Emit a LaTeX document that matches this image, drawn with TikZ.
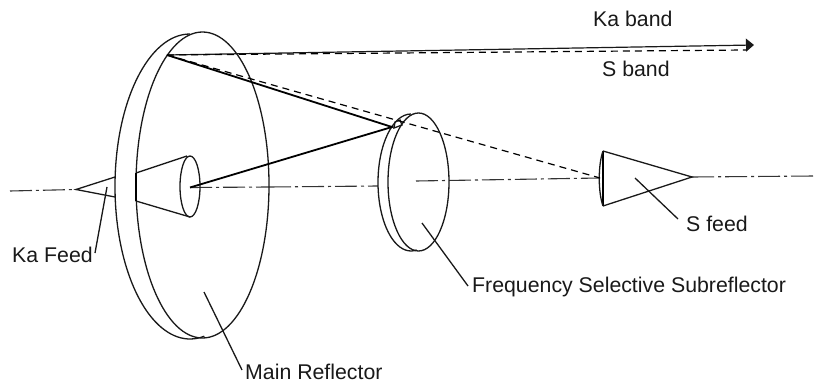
\documentclass[tikz,border=0pt]{standalone}
\usepackage{fontspec}
\setmainfont{Liberation Sans}
\usetikzlibrary{arrows.meta}
\tikzset{
  thinl/.style={line width=1.2pt,black!90},
  med/.style={line width=1.3pt,black!90},
  thick2/.style={line width=1.8pt,black},
  dash2/.style={line width=1.2pt,dash pattern=on 7pt off 5pt},
  axis2/.style={line width=1.1pt,black!80,dash pattern=on 22pt off 4pt on 3pt off 4pt},
  lab/.style={font=\fontsize{21.3}{24}\selectfont,inner sep=0pt,anchor=base west,text=black!90}
}
\begin{document}
\begin{tikzpicture}[x=1pt,y=-1pt]
\useasboundingbox (0,0) rectangle (820,385);
% axes
\coordinate (a0) at (10,191);
\coordinate (kaapex) at (76,189.5);
\coordinate (conec) at (190,187.5);
\coordinate (mrr) at (269,187);
\coordinate (sbl) at (378,186);
\coordinate (axs) at (416,181);
\coordinate (sfl) at (600,178);
\coordinate (sapex) at (692,177);
\coordinate (aend) at (815,176);
\draw[axis2] (a0) -- (kaapex);
\draw[axis2] (conec) -- (mrr);
\draw[axis2] (mrr) -- (sbl);
\draw[axis2] (axs) -- (sfl);
\draw[axis2] (sapex) -- (aend);
% main reflector
\draw[med] (202.5,185) ellipse [x radius=66.5,y radius=153];
\draw[med] (190,34) arc[start angle=-90,end angle=-281,x radius=75,y radius=152.5];
% Ka feed
\coordinate (kau) at (115,177);
\coordinate (kal) at (115,197);
\draw[med] (kau) -- (kaapex) -- (kal);
% cone
\coordinate (cl1) at (136,173);
\coordinate (cl2) at (136,201);
\coordinate (cr1) at (187,156);
\coordinate (cr2) at (190,217);
\draw[med] (cl1) -- (cr1);
\draw[med] (cl2) -- (cr2);
\draw[thick2] (cl1) -- (cl2);
\draw[med] (190,186.5) ellipse [x radius=10,y radius=30.5];
% subreflector
\draw[med] (418.5,182) ellipse [x radius=30.5,y radius=69];
\draw[med] (411,114) arc[start angle=-90,end angle=-280,x radius=33,y radius=68.5];
\draw[med] (395,122) -- (400,120) -- (402,125) -- (394,128) -- cycle;
% S feed
\coordinate (sf1) at (603,151);
\coordinate (sf2) at (603,206);
\draw[med] (sf1) -- (sapex) -- (sf2);
\draw[thick2] (sf1) -- (sf2);
\draw[med] (sf1) .. controls (598,165) and (598,192) .. (sf2);
% rays
\coordinate (hit) at (167,55);
\coordinate (sub) at (392,127);
\coordinate (tipk) at (754,45);
\coordinate (tips) at (746,50);
\draw[thinl,-{Triangle[length=8pt,width=13pt]}] (hit) -- (tipk);
\draw[dash2] (hit) -- (tips);
\draw[dash2] (hit) -- (sfl);
\draw[thick2] (hit) -- (sub) -- (conec);
% leaders
\coordinate (l1a) at (107,187);
\coordinate (l1b) at (95,253);
\coordinate (l2a) at (204,292);
\coordinate (l2b) at (242,370);
\coordinate (l3a) at (422,223);
\coordinate (l3b) at (468,286);
\coordinate (l4a) at (635,178);
\coordinate (l4b) at (678,219);
\draw[med] (l1a) -- (l1b);
\draw[med] (l2a) -- (l2b);
\draw[med] (l3a) -- (l3b);
\draw[med] (l4a) -- (l4b);
% labels
\node[lab] (t1) at (593,27) {Ka band};
\node[lab] (t2) at (602,77) {S band};
\node[lab] (t3) at (12,262) {Ka Feed};
\node[lab] (t4) at (472,292) {Frequency Selective Subreflector};
\node[lab] (t5) at (245,379) {Main Reflector};
\node[lab] (t6) at (686,231) {S feed};
\end{tikzpicture}
\end{document}
